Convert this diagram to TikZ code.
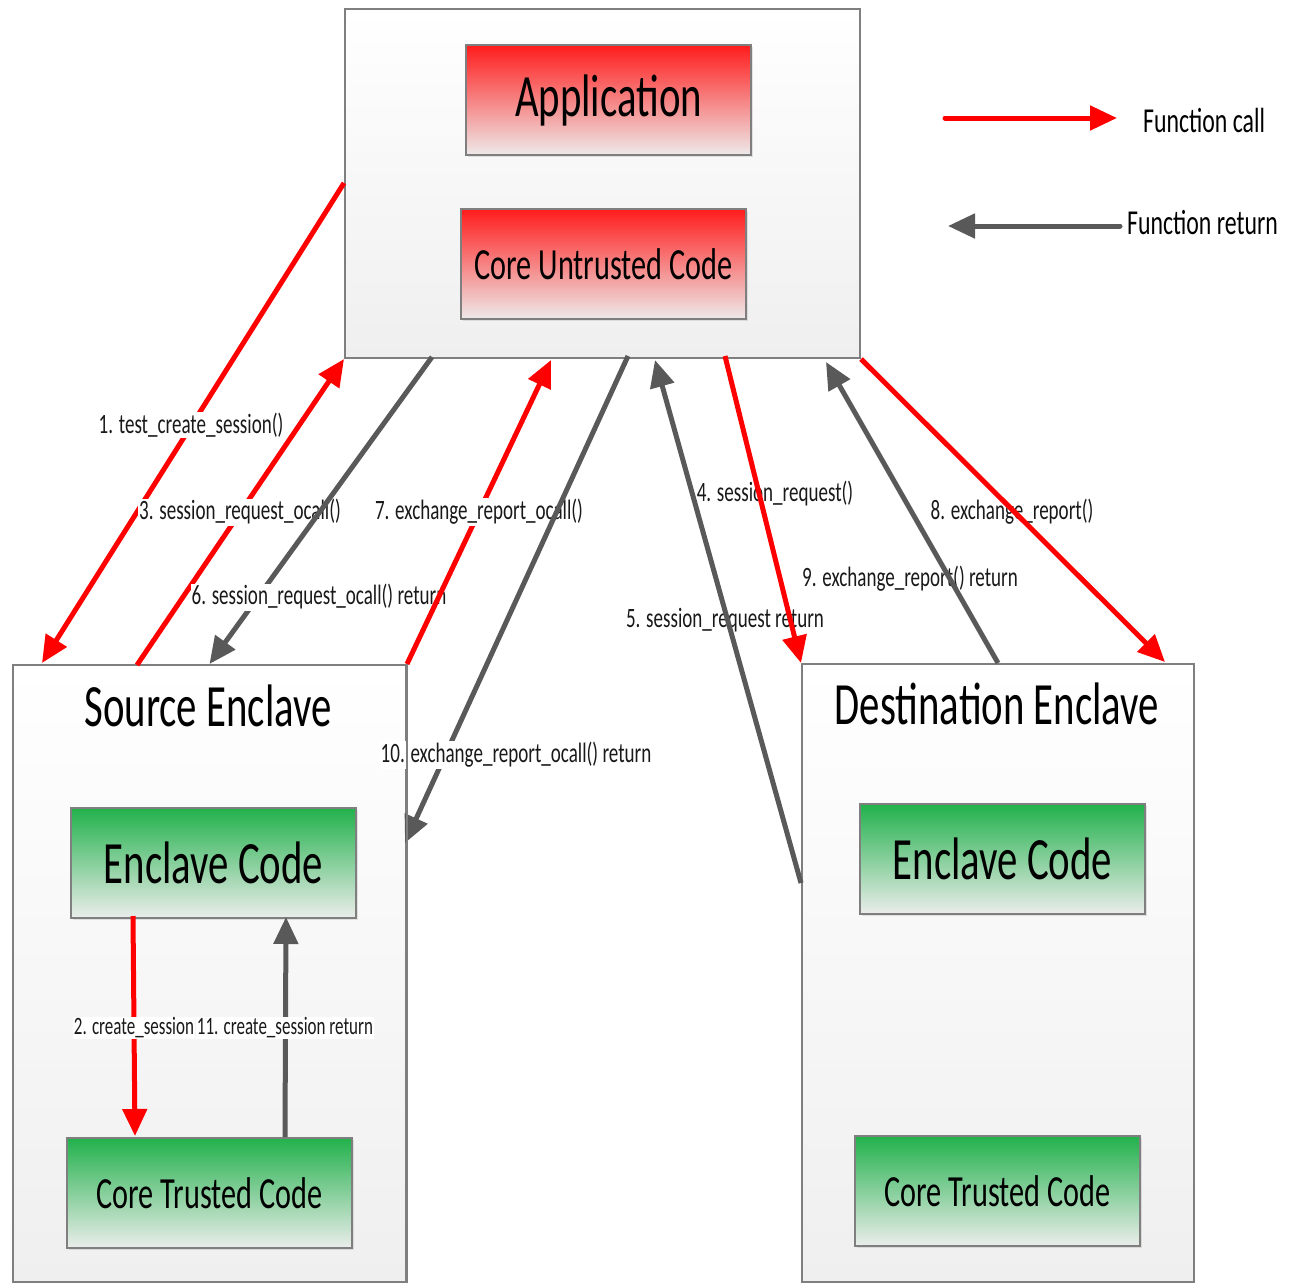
\documentclass[tikz,border=0pt]{standalone}
\usepackage{fontspec}
\setmainfont{Carlito}
\usepackage{graphicx}
\usetikzlibrary{arrows.meta,shadows}

\definecolor{cred}{HTML}{FF0000}
\definecolor{cgray}{HTML}{595959}
\definecolor{bord}{HTML}{7F7F7F}
\definecolor{redtop}{HTML}{FF1C1C}
\definecolor{redmid}{HTML}{F4A6A6}
\definecolor{redbot}{HTML}{EEEAEA}
\definecolor{greentop}{HTML}{22B14C}
\definecolor{greenmid}{HTML}{9ED4AB}
\definecolor{greenbot}{HTML}{EBEDEB}
\definecolor{outbot}{HTML}{EFEFEF}

\newcommand\sq[1]{\scalebox{0.68}[1]{#1}}

\tikzset{
  outerbox/.style={draw=bord, line width=2pt, top color=white, bottom color=outbot,
    anchor=north west, inner sep=0pt},
  innerbox/.style={draw=bord, line width=2pt, anchor=north west, inner sep=0pt,
    minimum width=285pt, minimum height=110pt,
    drop shadow={opacity=0.2, shadow xshift=2pt, shadow yshift=-2pt}},
  redbox/.style={innerbox, top color=redtop, middle color=redmid, bottom color=redbot},
  greenbox/.style={innerbox, top color=greentop, middle color=greenmid, bottom color=greenbot},
  callarrow/.style={draw=cred, line width=5pt, -{Triangle[length=27pt,width=24pt]}},
  retarrow/.style={draw=cgray, line width=5pt, -{Triangle[length=27pt,width=24pt]}},
  lbl/.style={font=\fontsize{28}{28}\selectfont, inner sep=1pt, text=black!90},
  lblw/.style={lbl, fill=white},
  smalllbl/.style={font=\fontsize{25}{25}\selectfont, inner sep=1pt, fill=white, text=black!90},
  bigtxt/.style={font=\fontsize{60}{60}\selectfont},
  midtxt/.style={font=\fontsize{44.5}{44.5}\selectfont},
  legtxt/.style={font=\fontsize{35}{35}\selectfont, anchor=west, inner sep=0pt},
}

\begin{document}
\begin{tikzpicture}[x=1pt,y=-1pt]
\useasboundingbox (0,0) rectangle (1299,1283);

% ---------- boxes ----------
\node[outerbox, minimum width=515pt, minimum height=349pt] (top) at (344,8) {};
\node[redbox] (app) at (465,44) {};
\node[bigtxt] at (app.center) {\sq{Application}};
\node[redbox] (cuc) at (460,208) {};
\node[midtxt] at (cuc.center) {\sq{Core Untrusted Code}};

\node[outerbox, minimum width=393pt, minimum height=617pt] (src) at (12,664) {};
\node[bigtxt] (srct) at (208,706) {\sq{Source Enclave}};
\node[greenbox] (sec) at (70,807) {};
\node[bigtxt] at (sec.center) {\sq{Enclave Code}};
\node[greenbox] (stc) at (66,1137) {};
\node[midtxt] at (stc.center) {\sq{Core Trusted Code}};

\node[outerbox, minimum width=392pt, minimum height=618pt] (dst) at (801,663) {};
\node[bigtxt] (dstt) at (997,704) {\sq{Destination Enclave}};
\node[greenbox] (dec) at (859,803) {};
\node[bigtxt] at (dec.center) {\sq{Enclave Code}};
\node[greenbox] (dtc) at (854,1135) {};
\node[midtxt] at (dtc.center) {\sq{Core Trusted Code}};

% ---------- connector end points ----------
\coordinate (p1s) at (344,183);
\coordinate (p1e) at (42,663);
\coordinate (p3s) at (137,665);
\coordinate (p6s) at (432,357);
\coordinate (p7e) at (551,360);
\coordinate (p10s) at (628,356);
\coordinate (p10e) at (405,843);
\coordinate (p5s) at (801,883);
\coordinate (p5e) at (655,360);
\coordinate (p4s) at (725,356);
\coordinate (p9e) at (826,362);
\coordinate (p8e) at (1165,662);
\coordinate (p2s) at (133,916);
\coordinate (p2e) at (135,1136);
\coordinate (p11s) at (285,1137);
\coordinate (p11e) at (286,917);

% ---------- labels under lines ----------
\node[lbl] (l4) at (775,494) {\sq{4. session\_request()}};
\node[lbl] (l5) at (725,620) {\sq{5. session\_request return}};
\node[lbl] (l9) at (910,579) {\sq{9. exchange\_report() return}};
\node[lbl] (l8) at (1012,512) {\sq{8. exchange\_report()}};

% ---------- left connectors ----------
\draw[callarrow] (p1s) -- (p1e);
\node[lblw] (l1) at (191,425) {\sq{1. test\_create\_session()}};
\draw[callarrow] (p3s) -- (top.south west);
\node[lblw] (l3) at (240,512) {\sq{3. session\_request\_ocall()}};
\draw[retarrow] (p6s) -- (src.north);
\node[lblw] (l6) at (319,597) {\sq{6. session\_request\_ocall() return}};
\draw[callarrow] (src.north east) -- (p7e);
\node[lblw] (l7) at (479,512) {\sq{7. exchange\_report\_ocall()}};
\draw[retarrow] (p10s) -- (p10e);
\node[lblw] (l10) at (516,755) {\sq{10. exchange\_report\_ocall() return}};
\draw[draw=bord, line width=2pt] (src.north east) -- (src.south east);

% ---------- right connectors ----------
\draw[retarrow] (p5s) -- (p5e);
\draw[callarrow] (p4s) -- (dst.north west);
\draw[retarrow] (dst.north) -- (p9e);
\draw[callarrow] (top.south east) -- (p8e);

% ---------- inside source enclave ----------
\draw[callarrow] (p2s) -- (p2e);
\draw[retarrow] (p11s) -- (p11e);
\node[smalllbl] (l2) at (134,1028) {\sq{2. create\_session}};
\node[smalllbl] (l11) at (285,1028) {\sq{11. create\_session return}};

% ---------- legend ----------
\coordinate (lc1) at (945,118);
\coordinate (lc2) at (1117,118);
\coordinate (lr1) at (1120,226);
\coordinate (lr2) at (948,226);
\draw[callarrow, line cap=round] (lc1) -- (lc2);
\node[legtxt] (lct) at (1143,120) {\sq{Function call}};
\draw[retarrow, line cap=round] (lr1) -- (lr2);
\node[legtxt] (lrt) at (1127,223) {\sq{Function return}};
\end{tikzpicture}
\end{document}
